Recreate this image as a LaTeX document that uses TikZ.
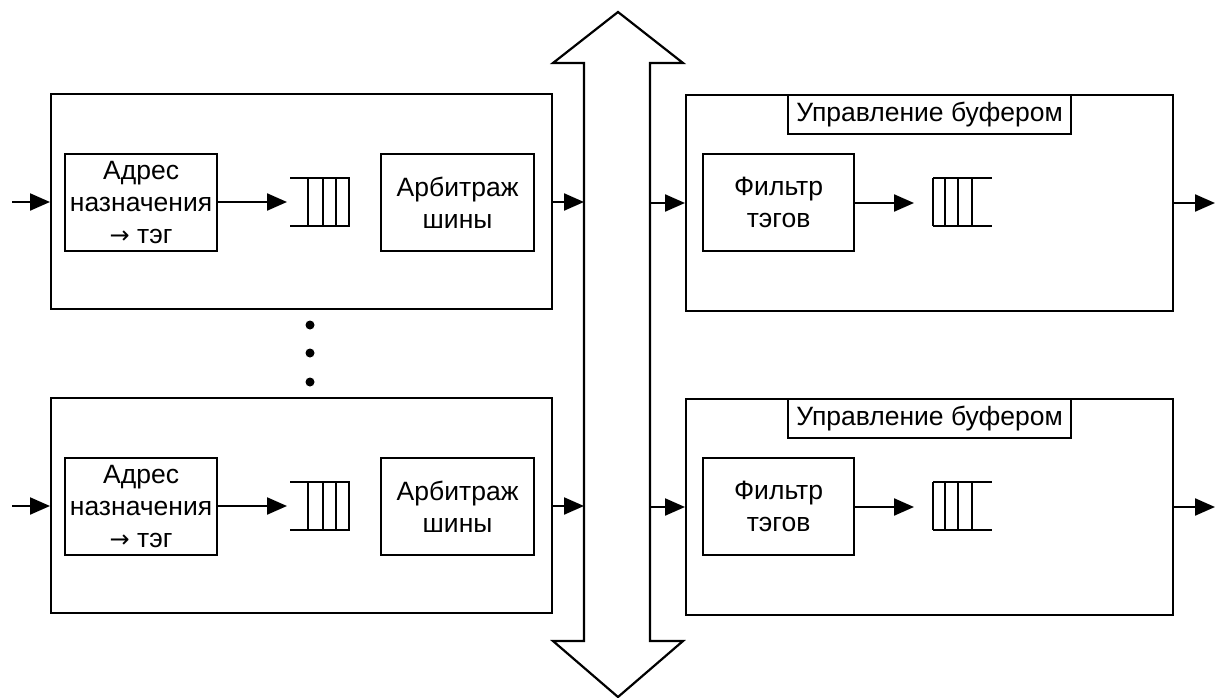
\documentclass[tikz,border=0pt]{standalone}
\usepackage{fontspec}
\setmainfont{Liberation Sans}
\newfontfamily\arrowfont{DejaVu Sans}
\usetikzlibrary{arrows.meta}
\begin{document}
\begin{tikzpicture}[x=1pt,y=-1pt,line width=2.2pt,
  every node/.style={font=\fontsize{26.5}{32}\selectfont},
  box/.style={draw, inner sep=0pt, anchor=north west, align=center},
  arr/.style={-{Triangle[length=20pt,width=17pt]}}]
\useasboundingbox (0,0) rectangle (1223,698);

% system bus: vertical double arrow
\draw (618,12) -- (683,63) -- (650,63) -- (650,641) -- (683,641) -- (618,697)
      -- (553,641) -- (584,641) -- (584,63) -- (553,63) -- cycle;
\coordinate (busL) at (584,0);
\coordinate (busR) at (650,0);

\foreach \r/\dy in {t/0, b/304} {
  % sender side
  \node[box, minimum width=501pt, minimum height=215pt] (inL\r) at (50,93+\dy) {};
  \node[box, minimum width=152pt, minimum height=97pt] (addr\r) at (64,153+\dy)
    {Адрес\\назначения\\{\arrowfont\fontsize{24}{32}\selectfont →} тэг};
  \node[box, minimum width=153pt, minimum height=97pt] (arb\r) at (380,153+\dy)
    {Арбитраж\\шины};
  \coordinate (inS\r) at (12,202+\dy);
  \coordinate (qA\r) at (287,202+\dy);
  \draw[arr] (inS\r) -- (inS\r -| inL\r.west);
  \draw[arr] (addr\r.east |- qA\r) -- (qA\r);
  \draw (290,178+\dy) -- (350,178+\dy) (290,226+\dy) -- (350,226+\dy);
  \foreach \x in {308,323,336,349} \draw (\x,178+\dy) -- (\x,226+\dy);
  \draw[arr] (inL\r.east |- qA\r) -- (busL |- qA\r);

  % receiver side
  \node[box, minimum width=487pt, minimum height=216pt] (out\r) at (685,94+\dy) {};
  \node[box, minimum width=283pt, minimum height=39pt] (buf\r) at (787,94+\dy)
    {Управление буфером};
  \node[box, minimum width=151pt, minimum height=97pt] (flt\r) at (702,153+\dy)
    {Фильтр\\тэгов};
  \coordinate (qB\r) at (914,203+\dy);
  \coordinate (outE\r) at (1215,203+\dy);
  \draw[arr] (busR |- qB\r) -- (out\r.west |- qB\r);
  \draw[arr] (flt\r.east |- qB\r) -- (qB\r);
  \draw (933,178+\dy) -- (992,178+\dy) (933,226+\dy) -- (992,226+\dy);
  \foreach \x in {933,945,958,972} \draw (\x,178+\dy) -- (\x,226+\dy);
  \draw[arr] (out\r.east |- outE\r) -- (outE\r);
}

% further senders omitted
\foreach \y in {325,353,382} \fill (310,\y) circle (4.5);
\end{tikzpicture}
\end{document}
